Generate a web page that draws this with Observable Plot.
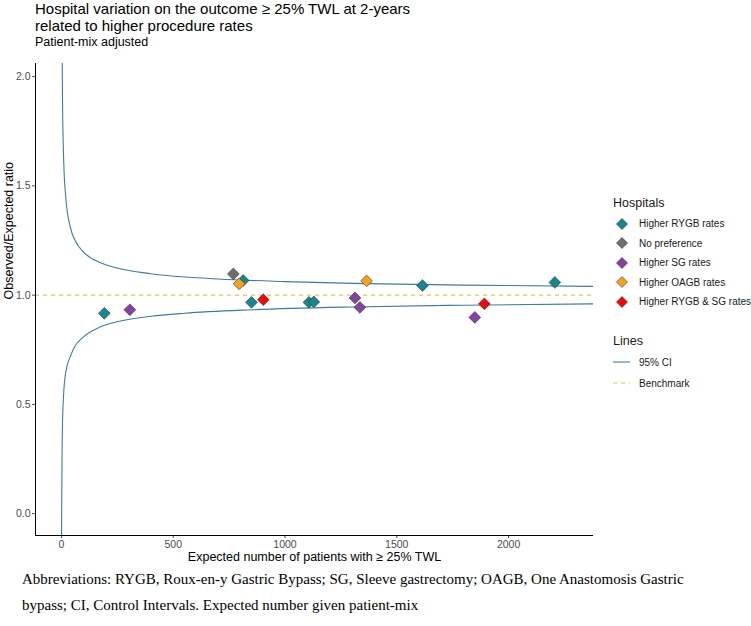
<!DOCTYPE html>
<html>
<head>
<meta charset="utf-8">
<script src="https://cdn.jsdelivr.net/npm/d3@7"></script>
<script src="https://cdn.jsdelivr.net/npm/@observablehq/plot@0.6"></script>
<style>
  body { margin: 0; background: #fff; font-family: "Liberation Sans", Arial, sans-serif; }
  #wrap { position: relative; width: 751px; height: 626px; overflow: hidden; }
  #title { position: absolute; left: 35px; top: 0px; font-size: 15px; line-height: 17px; color: #000; white-space: nowrap; }
  #subtitle { position: absolute; left: 35px; top: 35px; font-size: 12.5px; color: #000; }
  #chart { position: absolute; left: 0; top: 0; }
  #legend { position: absolute; left: 613px; top: 196px; font-size: 10px; color: #1a1a1a; white-space: nowrap; }
  .lg-title { font-size: 12.5px; margin-bottom: 4px; }
  .lg-item { height: 19.5px; display: flex; align-items: center; }
  .lg-item svg { margin-right: 8px; flex: none; }
  #caption { position: absolute; left: 22px; top: 566px; font-family: "Liberation Serif", "Times New Roman", serif; font-size: 15px; line-height: 26px; color: #000; white-space: nowrap; }
</style>
</head>
<body>
<div id="wrap">
  <div id="chart"></div>
  <div id="title">Hospital variation on the outcome ≥ 25% TWL at 2-years<br>related to higher procedure rates</div>
  <div id="subtitle">Patient-mix adjusted</div>
  <div id="legend"></div>
  <div id="caption">Abbreviations: RYGB, Roux-en-y Gastric Bypass; SG, Sleeve gastrectomy; OAGB, One Anastomosis Gastric<br>bypass; CI, Control Intervals. Expected number given patient-mix</div>
</div>
<script>
// ---- Data ----
const groups = ["Higher RYGB rates", "No preference", "Higher SG rates", "Higher OAGB rates", "Higher RYGB & SG rates"];
const groupColors = ["#17878f", "#6e6e6e", "#8443a0", "#f5a31e", "#ee0a0a"];

const hospGroup = [
  "Higher RYGB rates", "Higher SG rates", "No preference", "Higher RYGB rates", "Higher OAGB rates",
  "Higher RYGB rates", "Higher RYGB & SG rates", "Higher RYGB rates", "Higher RYGB rates", "Higher OAGB rates",
  "Higher RYGB rates", "Higher RYGB rates", "Higher SG rates", "Higher SG rates", "Higher RYGB & SG rates",
  "Higher SG rates"
];
const expectedN = [192, 306, 769, 813, 795, 850, 903, 1107, 1129, 1365, 1615, 2207, 1313, 1335, 1892, 1849];
const oeRatio   = [0.917, 0.933, 1.097, 1.067, 1.052, 0.967, 0.979, 0.967, 0.969, 1.065, 1.044, 1.058, 0.987, 0.944, 0.960, 0.898];

// 95% CI funnel
const ciUpperX = [1, 2, 3, 5, 10, 20, 40, 63, 100, 175, 250, 400, 700, 1000, 1300, 1800, 2380];
const ciUpperY = [2.9, 2.4, 2.13, 1.88, 1.62, 1.44, 1.31, 1.247, 1.196, 1.148, 1.124, 1.098, 1.074, 1.062, 1.054, 1.046, 1.040];
const ciLowerX = [0, 1, 3, 5, 10, 20, 40, 60, 100, 175, 250, 400, 550, 850, 1300, 1800, 2380];
const ciLowerY = [-0.25, 0.0, 0.3, 0.42, 0.55, 0.65, 0.72, 0.765, 0.81, 0.855, 0.878, 0.903, 0.917, 0.933, 0.946, 0.954, 0.960];

const benchmark = 1;
const xTicks = [0, 500, 1000, 1500, 2000];
const yTicks = [0, 0.5, 1, 1.5, 2];
const xDomain = [-116, 2380];
const yDomain = [-0.1, 2.06];

const ciColor = "#3d7c9c";
const benchColor = "#d9c74a";

// ---- Build tables ----
const points = expectedN.map((e, i) => ({e, r: oeRatio[i], g: hospGroup[i]}));
const upper = ciUpperX.map((e, i) => ({e, r: ciUpperY[i]}));
const lower = ciLowerX.map((e, i) => ({e, r: ciLowerY[i]}));
const colorOf = new Map(groups.map((g, i) => [g, groupColors[i]]));

const chart = Plot.plot({
  width: 751,
  height: 565,
  marginLeft: 35,
  marginRight: 158,
  marginTop: 63,
  marginBottom: 30,
  style: {fontFamily: "Liberation Sans, Arial, sans-serif", background: "transparent"},
  x: {domain: xDomain},
  y: {domain: yDomain},
  marks: [
    Plot.axisX({ticks: xTicks, tickSize: 3, tickPadding: 2, fontSize: 10.5, color: "#4d4d4d", label: null, tickFormat: d3.format("d")}),
    Plot.axisY({ticks: yTicks, tickSize: 3, tickPadding: 2, fontSize: 10.5, color: "#4d4d4d", label: null, tickFormat: d3.format(".1f")}),
    Plot.ruleY([benchmark], {stroke: benchColor, strokeWidth: 1.1, strokeDasharray: "4,4"}),
    Plot.line(upper, {x: "e", y: "r", curve: "monotone-x", stroke: ciColor, strokeWidth: 1.1, clip: true}),
    Plot.line(lower, {x: "e", y: "r", curve: "monotone-x", stroke: ciColor, strokeWidth: 1.1, clip: true}),
    Plot.dot(points, {x: "e", y: "r", symbol: "diamond2", r: 5.3, fill: d => colorOf.get(d.g), stroke: "#333", strokeWidth: 0.6}),
    Plot.ruleY([yDomain[0]], {stroke: "#000", strokeWidth: 1}),
    Plot.ruleX([xDomain[0]], {stroke: "#000", strokeWidth: 1}),
    Plot.text(["Expected number of patients with ≥ 25% TWL"], {frameAnchor: "bottom", dy: 25, fontSize: 12.5, fill: "#000"}),
    Plot.text(["Observed/Expected ratio"], {frameAnchor: "left", dx: -27, rotate: -90, fontSize: 12.5, fill: "#000"})
  ]
});
document.getElementById("chart").appendChild(chart);

// ---- Legend ----
const lg = document.getElementById("legend");
let html = '<div class="lg-title">Hospitals</div>';
groups.forEach((g, i) => {
  html += `<div class="lg-item"><svg width="18" height="16"><path d="M9,2.5 L14.5,8 L9,13.5 L3.5,8 Z" fill="${groupColors[i]}" stroke="#333" stroke-width="0.6"/></svg>${g}</div>`;
});
html += '<div class="lg-title" style="margin-top:22px">Lines</div>';
html += `<div class="lg-item" style="height:21px"><svg width="18" height="16"><line x1="0" x2="17" y1="8" y2="8" stroke="${ciColor}" stroke-width="1.1"/></svg>95% CI</div>`;
html += `<div class="lg-item" style="height:21px"><svg width="18" height="16"><line x1="0" x2="17" y1="8" y2="8" stroke="${benchColor}" stroke-width="1.1" stroke-dasharray="4,4"/></svg>Benchmark</div>`;
lg.innerHTML = html;
</script>
</body>
</html>
